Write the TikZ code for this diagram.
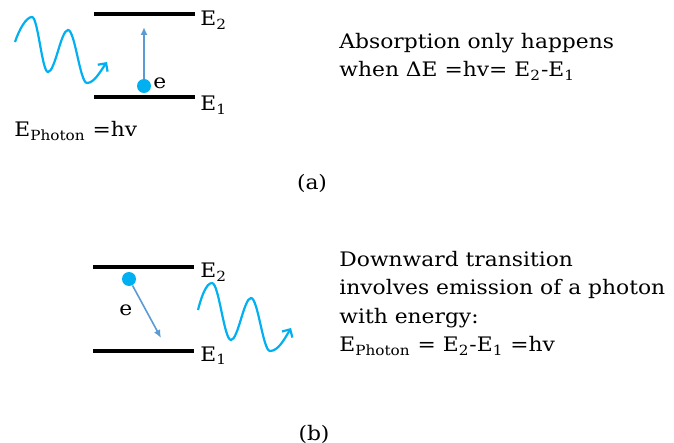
\documentclass[tikz,border=0pt]{standalone}
\usepackage{fontspec}
\setmainfont{DejaVu Serif}[FakeStretch=1.09]
\definecolor{wavecyan}{RGB}{0,176,240}
\definecolor{arrowblue}{RGB}{91,155,213}
\usetikzlibrary{arrows.meta,positioning}

\begin{document}
\begin{tikzpicture}[x=0.5pt,y=-0.5pt,
  level/.style={fill=black, inner sep=0pt, minimum width=50.5pt, minimum height=2pt},
  elec/.style={circle, fill=wavecyan, inner sep=0pt, minimum size=7pt},
  txt/.style={font=\fontsize{10}{14.2}\selectfont, inner sep=0pt, align=left},
  jump/.style={-{Latex[length=4pt,width=3.5pt]}, arrowblue, line width=0.8pt},
  photon/.style={-{Straight Barb[length=3pt,width=6pt]}, wavecyan, line width=1.1pt}]
  \useasboundingbox (0,0) rectangle (674,443);

  % (a) absorption
  \node[level] (a2) at (144,14) {};
  \node[level] (a1) at (144,97) {};
  \node[txt, anchor=base west] (a2lab) at (200,26) {E\textsubscript{2}};
  \node[txt, anchor=base west] (a1lab) at (200,111) {E\textsubscript{1}};
  \node[elec] (ea) at (144,86) {};
  \node[txt, anchor=base west] (ealab) at (153,89) {e};
  \coordinate (ta) at (144,27);
  \draw[jump] (ea) -- (ta);
  \draw[photon] (15,42) .. controls (19,30) and (26,17) .. (32,17)
    .. controls (38,17) and (42,72) .. (48,72)
    .. controls (55,72) and (61,30) .. (68,30)
    .. controls (75,30) and (80,83) .. (87,83)
    .. controls (94,83) and (100,72) .. (107,62);
  \node[txt, anchor=base west] (ephot) at (14,137) {E\textsubscript{Photon} =hv};
  \node[txt, anchor=north west] (absn) at (339,33) {Absorption only happens\\when ΔE =hv= E\textsubscript{2}-E\textsubscript{1}};
  \node[txt, anchor=base] (capa) at (312,190) {(a)};

  % (b) emission
  \node[level] (b2) at (143,267) {};
  \node[level] (b1) at (143,351) {};
  \node[txt, anchor=base west] (b2lab) at (200,278) {E\textsubscript{2}};
  \node[txt, anchor=base west] (b1lab) at (200,361) {E\textsubscript{1}};
  \node[elec] (eb) at (129,279) {};
  \node[txt, anchor=base west] (eblab) at (119,315) {e};
  \coordinate (tb) at (161,338);
  \draw[jump] (eb) -- (tb);
  \draw[photon] (198,310) .. controls (201,298) and (206,283) .. (212,283)
    .. controls (219,283) and (224,340) .. (231,340)
    .. controls (238,340) and (244,298) .. (251,298)
    .. controls (258,298) and (263,351) .. (270,351)
    .. controls (278,351) and (284,340) .. (291,328);
  \node[txt, anchor=north west] (emis) at (339,251) {Downward transition\\involves emission of a photon\\with energy:\\E\textsubscript{Photon} = E\textsubscript{2}-E\textsubscript{1} =hv};
  \node[txt, anchor=base] (capb) at (314,440) {(b)};
\end{tikzpicture}
\end{document}
